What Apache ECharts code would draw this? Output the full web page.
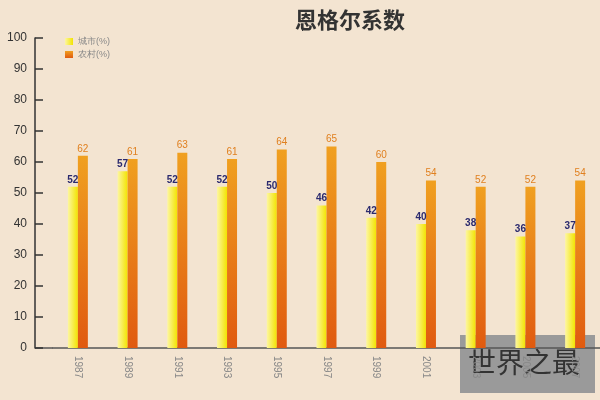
<!DOCTYPE html>
<html><head><meta charset="utf-8">
<script src="https://cdn.jsdelivr.net/npm/echarts@6/dist/echarts.min.js"></script>
<style>body{margin:0;background:#f3e4d1}#c{width:600px;height:400px}</style>
</head><body><div id="c"></div>
<script>
var years = ['1987','1989','1991','1993','1995','1997','1999','2001','2003','2005','2007'];
var city = [52,57,52,52,50,46,42,40,38,36,37];
var rural = [62,61,63,61,64,65,60,54,52,52,54];

var chart = echarts.init(document.getElementById('c'));
chart.setOption({
    backgroundColor: '#f3e4d1',
    title: {text: '恩格尔系数', left: 290, top: 4, textStyle: {fontSize: 22, fontWeight: 'bold', color: '#333', fontFamily: 'Noto Sans CJK SC'}},
    legend: {
        left: 60, top: 32, orient: 'vertical', itemWidth: 8, itemHeight: 7, itemGap: 4,
        icon: 'rect',
        textStyle: {fontSize: 9, color: '#888'},
        data: ['城市(%)', '农村(%)']
    },
    grid: {left: 53, right: -13, top: 38, bottom: 52},
    xAxis: {
        type: 'category', data: years,
        axisLine: {lineStyle: {color: '#555', width: 1.5}},
        axisTick: {show: false},
        axisLabel: {rotate: -90, color: '#888', fontSize: 10, margin: 8}
    },
    yAxis: {
        type: 'value', min: 0, max: 100, interval: 10, offset: 18,
        axisLine: {show: true, lineStyle: {color: '#333', width: 1.5}},
        axisTick: {show: true, inside: true, length: 8, lineStyle: {color: '#333', width: 1.5}},
        axisLabel: {color: '#333', fontSize: 12},
        splitLine: {show: false}
    },
    series: [
        {
            name: '城市(%)', type: 'bar', data: city, barWidth: 10, barGap: '0%',
            itemStyle: {color: new echarts.graphic.LinearGradient(0, 0, 1, 0, [{offset: 0, color: '#fdf6a0'}, {offset: 1, color: '#f2e400'}])},
            label: {show: true, position: 'top', color: '#2b2a6e', fontWeight: 'bold', fontSize: 10, distance: 2}
        },
        {
            name: '农村(%)', type: 'bar', data: rural, barWidth: 10,
            itemStyle: {color: new echarts.graphic.LinearGradient(0, 0, 0, 1, [{offset: 0, color: '#f0a020'}, {offset: 1, color: '#e05a10'}])},
            label: {show: true, position: 'top', color: '#e08020', fontSize: 10, distance: 2}
        }
    ],
    graphic: [
        {type: 'line', shape: {x1: 35, y1: 348, x2: 53, y2: 348}, style: {stroke: '#555', lineWidth: 1.5}},
        {type: 'rect', left: 460, top: 335, shape: {width: 135, height: 58}, style: {fill: '#9a9a9a'}},
        {type: 'text', left: 468, top: 348, style: {text: '世界之最', fontSize: 28, fill: '#333', fontFamily: 'Noto Sans CJK SC'}}
    ]
});
</script></body></html>
